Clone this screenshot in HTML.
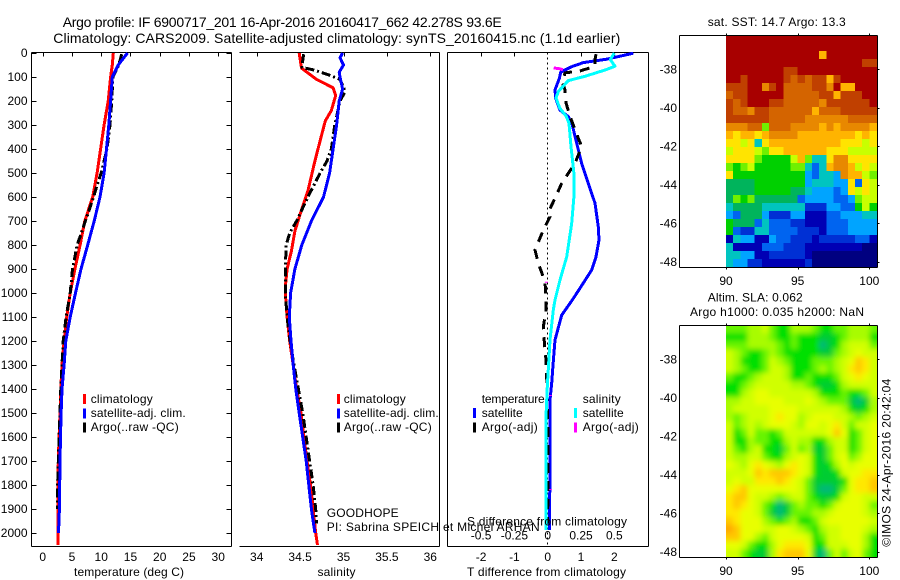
<!DOCTYPE html>
<html>
<head>
<meta charset="utf-8">
<title>Argo profile</title>
<style>
html,body{margin:0;padding:0;background:#fff;}
svg{display:block;}
text{font-family:"Liberation Sans",sans-serif;font-size:12px;fill:#000;}
.frame{stroke:#000;stroke-width:1;fill:none;shape-rendering:crispEdges;}
.curve{fill:none;stroke-width:3;stroke-linejoin:round;shape-rendering:crispEdges;}
</style>
</head>
<body>
<svg id="chart" width="900" height="580" viewBox="0 0 900 580" xmlns="http://www.w3.org/2000/svg">
  <rect width="900" height="580" fill="#fff"/>
  <text x="62.7" y="27" style="font-size:14px" textLength="439" lengthAdjust="spacing">Argo profile: IF 6900717_201 16-Apr-2016 20160417_662 42.278S 93.6E</text>
  <text x="53.3" y="43" style="font-size:14px" textLength="567" lengthAdjust="spacing">Climatology: CARS2009. Satellite-adjusted climatology: synTS_20160415.nc (1.1d earlier)</text>

  <g id="maps"></g>
  <g id="axes"></g>
  <g id="series"></g>

  <text x="74" y="576" textLength="110">temperature (deg C)</text>
  <text x="317.5" y="576" textLength="38">salinity</text>
  <text x="467" y="576" textLength="159">T difference from climatology</text>
  <text x="467" y="525.5" textLength="160">S difference from climatology</text>

  <g>
    <rect x="83" y="394" width="3" height="10" fill="#f00"/>
    <text x="90.7" y="403" textLength="62">climatology</text>
    <rect x="83" y="408.5" width="3" height="10" fill="#00f"/>
    <text x="90.7" y="417" textLength="95">satellite-adj. clim.</text>
    <rect x="83" y="422.5" width="3" height="10" fill="#000"/>
    <text x="90.7" y="431" textLength="88">Argo(..raw -QC)</text>
  </g>
  <g>
    <rect x="337" y="394" width="3" height="10" fill="#f00"/>
    <text x="343.7" y="403" textLength="62">climatology</text>
    <rect x="337" y="408.5" width="3" height="10" fill="#00f"/>
    <text x="343.7" y="417" textLength="95">satellite-adj. clim.</text>
    <rect x="337" y="422.5" width="3" height="10" fill="#000"/>
    <text x="343.7" y="431" textLength="88">Argo(..raw -QC)</text>
  </g>
  <g>
    <text x="481.7" y="403" textLength="63">temperature</text>
    <rect x="473" y="408" width="3" height="10" fill="#00f"/>
    <text x="481.7" y="417" textLength="41">satellite</text>
    <rect x="473" y="422.5" width="3" height="10" fill="#000"/>
    <text x="481.7" y="431" textLength="56">Argo(-adj)</text>
    <text x="582.7" y="403" textLength="38">salinity</text>
    <rect x="574" y="408" width="3" height="10" fill="#0ff"/>
    <text x="582.7" y="417" textLength="41">satellite</text>
    <rect x="574" y="422.5" width="3" height="10" fill="#f0f"/>
    <text x="582.7" y="431" textLength="56">Argo(-adj)</text>
  </g>

  <text x="326.7" y="517" textLength="72">GOODHOPE</text>
  <text x="326.7" y="531" textLength="213">PI: Sabrina SPEICH et Michel ARHAN</text>

  <text x="707.7" y="26" textLength="138">sat. SST: 14.7 Argo: 13.3</text>
  <text x="707.7" y="301.5" textLength="95">Altim. SLA: 0.062</text>
  <text x="690" y="316" textLength="174">Argo h1000: 0.035 h2000: NaN</text>
  <text transform="translate(890.5,546.7) rotate(-90)" textLength="168">©IMOS 24-Apr-2016 20:42:04</text>
</svg>
<script>
// ---- Profile tick labels ----
const depthTicks = [0,100,200,300,400,500,600,700,800,900,1000,1100,1200,1300,1400,1500,1600,1700,1800,1900,2000];
const tempTicks = [0,5,10,15,20,25,30];
const salTicks = [34,34.5,35,35.5,36];
const tDiffTicks = [-2,-1,0,1,2];
const sDiffTicks = [-0.5,-0.25,0,0.25,0.5];
const lonTicks = [90,95,100];
const latTicks = [-38,-40,-42,-44,-46,-48];

// ---- Temperature panel ----
const tempClimDepth = [0,50,100,200,300,400,500,600,700,800,900,1000,1100,1200,1300,1400,1500,1600,1700,1800,1900,2000,2050];
const tempClim = [12.07,11.9,11.6,11.2,10.5,9.9,9.3,8.55,7.2,6.4,5.5,4.7,4.1,3.65,3.3,3.1,2.95,2.8,2.67,2.62,2.6,2.6,2.6];
const tempSatDepth = [0,50,100,200,300,400,500,600,700,800,900,1000,1100,1200,1300,1400,1500,1600,1700,1800,1900,2000];
const tempSat = [14.5,12.9,11.9,11.6,11.3,10.9,10.5,9.8,8.8,7.7,6.55,5.6,4.7,3.95,3.65,3.3,3.15,3.05,2.95,2.9,2.85,2.7];
const tempArgoDepth = [5,50,100,200,300,400,500,550,600,700,800,900,1000,1100,1200,1300,1400,1500,1600,1700,1800,1900];
const tempArgo = [13.5,13,12,11.8,11.5,11,10,9.3,8.7,7.3,5.9,5.1,4.7,4,3.5,3.3,3.1,2.95,2.8,2.67,2.55,2.5];

// ---- Salinity panel ----
const salClimDepth = [0,50,64,110,145,177,240,283,366,450,575,672,742,825,900,975,1000,1100,1200,1300,1400,1500,1600,1700,1800,1900,2000,2050];
const salClim = [34.49,34.51,34.52,34.69,34.88,34.91,34.86,34.79,34.73,34.67,34.59,34.5,34.44,34.4,34.35,34.33,34.33,34.35,34.38,34.42,34.46,34.51,34.545,34.58,34.62,34.65,34.68,34.7];
const salSatDepth = [0,20,50,80,100,150,200,300,400,500,600,700,800,900,1000,1100,1200,1300,1400,1500,1600,1700,1800,1900,2000];
const salSat = [34.99,34.96,35,34.95,34.96,34.99,34.95,34.92,34.88,34.84,34.77,34.63,34.52,34.44,34.39,34.375,34.395,34.42,34.45,34.49,34.53,34.57,34.6,34.63,34.67];
const salArgoDepth = [5,60,70,90,110,160,200,300,400,450,500,600,700,750,800,900,1000,1100,1200,1300,1400,1500,1600,1700,1800,1900,1960];
const salArgo = [34.54,34.52,34.65,34.82,34.96,35.02,34.96,34.9,34.86,34.81,34.73,34.59,34.46,34.38,34.34,34.33,34.33,34.35,34.385,34.43,34.48,34.53,34.57,34.61,34.65,34.68,34.69];

// ---- Difference panel ----
const tDiffSatDepth = [1,26,40,57,80,105,154,189,238,265,300,376,460,543,626,724,779,849,904,980,1029,1092,1196,1279,1375,1446,1725,1987];
const tDiffSat = [2.57,1.77,1.07,0.72,0.39,0.35,0.22,0.24,0.37,0.62,0.74,0.87,1.02,1.22,1.42,1.52,1.54,1.45,1.32,0.97,0.74,0.42,0.22,0.17,0.12,0.07,0.07,0.05];
const sDiffSatDepth = [0,28,55,69,97,115,160,187,229,264,293,390,501,599,710,849,946,1029,1071,1196,1390,1515,1987];
const sDiffSat = [0.5,0.47,0.505,0.44,0.28,0.155,0.08,0.062,0.09,0.14,0.16,0.175,0.197,0.197,0.18,0.143,0.092,0.055,0.042,0.017,-0.003,-0.013,-0.013];
const tDiffArgoDepth = [5,28,55,74,83,125,153,208,264,355,390,459,543,605,654,682,737,821,877,953,1021,1071,1140,1210,1279,1349,1600,1960];
const tDiffArgo = [1.45,1.42,1.42,0.99,0.52,0.44,0.52,0.55,0.67,0.92,1.02,0.82,0.42,0.22,0.05,0.07,-0.13,-0.38,-0.28,-0.08,-0.05,-0.05,-0.13,-0.1,-0.05,-0.03,0.01,0];
const sDiffArgoDepth = [62,66,70];
const sDiffArgo = [0.045,0.09,0.115];
const sDiffArgoSpotDepth = [953,1425,1817];
const sDiffArgoSpot = [-0.01,0.02,0.02];

// ---- SST map, colour level per 0.5 deg column, row by row from north ----
const sstGrid = [
[15,15,15,15,15,15,15,15,15,15,15,15,15,15,15,15,15,15,15,15,15],
[15,15,15,15,15,15,15,15,15,15,15,15,15,15,15,15,15,15,15,15,15],
[15,15,15,15,15,15,15,15,15,15,15,15,15,11,15,15,15,15,15,15,15],
[15,15,15,15,15,15,15,15,15,15,15,15,15,15,15,15,15,15,15,14,14],
[15,15,15,15,15,15,15,15,14,14,15,15,15,15,15,15,15,15,15,15,15],
[15,15,14,15,15,15,15,15,14,13,14,13,14,14,11,14,15,15,15,15,15],
[14,14,14,15,15,12,14,15,13,13,13,13,14,14,12,15,11,11,15,15,15],
[13,14,14,15,15,15,15,15,13,13,13,13,13,14,14,11,14,14,14,15,15],
[14,13,14,15,15,15,14,14,13,13,13,13,13,12,14,14,14,14,14,14,15],
[14,13,13,12,14,14,13,13,13,13,13,13,11,13,13,13,14,14,14,14,14],
[14,14,14,14,14,14,13,13,13,13,13,12,12,12,12,12,12,13,13,13,13],
[12,12,12,13,13,8,13,13,13,12,12,12,12,11,12,11,12,12,12,12,11],
[11,10,11,11,10,11,12,12,12,12,11,11,11,11,11,11,11,11,10,11,10],
[10,10,9,10,5,10,11,11,11,11,11,11,11,11,11,11,10,10,10,9,10],
[9,10,10,10,9,8,10,10,11,11,11,11,11,11,10,10,10,9,9,9,9],
[10,10,10,10,8,7,7,7,7,9,11,8,5,5,10,12,12,10,10,10,10],
[8,7,8,9,7,7,7,7,7,8,8,5,3,5,11,12,12,11,9,10,9],
[10,7,7,7,7,7,7,7,7,7,7,4,3,5,5,4,12,11,11,9,8],
[6,6,6,6,7,7,7,7,7,7,7,4,5,5,5,4,4,10,3,10,9],
[6,6,6,6,7,7,7,7,7,6,6,5,4,4,4,3,4,10,9,10,9],
[6,8,7,8,6,6,6,6,6,6,3,4,4,4,4,3,3,4,8,9,9],
[5,6,6,6,6,5,5,5,5,5,5,2,2,2,4,4,3,3,7,9,7],
[4,3,6,6,6,4,2,2,2,4,4,1,1,1,3,3,4,4,4,5,5],
[7,6,6,6,3,5,3,3,3,2,2,1,1,1,3,3,3,4,4,4,4],
[7,3,2,2,5,5,3,3,3,3,2,2,2,1,3,3,3,4,4,4,4],
[1,5,4,4,1,1,4,3,3,2,2,2,1,2,2,2,2,2,3,3,1],
[5,1,1,1,1,3,3,3,2,2,2,1,1,1,1,1,1,1,1,0,0],
[5,5,4,4,1,1,2,2,2,2,2,1,0,0,0,0,0,0,0,0,0],
[5,4,4,2,2,1,1,1,1,1,1,2,0,0,0,0,0,0,0,0,0]
];

// ---- SLA map, colour level per 0.5 deg column, row by row from north ----
const slaGrid = [
[3,3,3,4,4,5,3,2,2,4,4,4,3,2,2,3,3,4,4,4,3],
[2,2,2,4,4,4,3,2,2,3,2,2,2,1,1,2,3,4,4,4,2],
[3,3,3,4,4,4,4,3,2,3,2,2,2,0,1,2,4,5,5,5,3],
[5,4,3,2,2,3,4,3,2,2,2,2,2,1,1,3,4,5,6,5,5],
[5,4,2,2,2,3,5,4,3,2,2,2,3,3,3,4,5,6,8,7,5],
[5,4,3,2,2,3,5,5,4,2,2,2,3,4,3,4,5,7,8,7,5],
[3,2,2,3,4,5,5,5,4,2,2,3,2,2,2,3,5,6,7,6,5],
[2,2,3,4,5,5,5,5,5,4,4,3,2,1,1,2,4,5,5,5,5],
[2,2,4,5,6,6,5,5,5,5,5,5,4,2,2,2,3,2,2,3,5],
[4,4,5,5,6,6,6,6,5,5,5,6,5,4,3,3,3,1,0,1,4],
[4,5,5,5,5,5,6,6,6,6,5,5,5,5,5,5,4,2,1,2,4],
[4,3,4,5,5,5,6,7,6,6,4,5,6,6,6,5,5,4,3,4,5],
[5,3,4,5,4,5,6,6,6,5,4,6,6,5,6,7,5,3,5,5,6],
[5,2,3,5,3,3,2,3,5,5,5,5,5,5,6,8,6,2,3,5,6],
[5,2,2,4,3,3,2,2,4,5,4,4,2,2,4,5,5,2,3,5,6],
[5,3,2,4,5,2,2,1,3,5,3,4,1,1,3,5,5,2,3,5,6],
[5,4,4,5,5,3,2,2,4,5,6,5,2,1,3,5,6,3,4,6,6],
[6,5,4,6,7,6,5,4,6,7,6,5,2,1,2,4,6,5,6,6,6],
[5,5,5,6,8,7,8,8,8,7,6,5,2,1,1,2,5,6,6,7,7],
[5,6,5,5,7,7,7,8,7,6,5,3,1,1,1,1,2,6,7,7,8],
[6,7,8,6,6,6,6,6,6,6,5,3,1,0,0,1,3,6,7,7,8],
[7,8,8,6,5,5,4,3,4,5,5,3,2,1,1,2,5,6,6,5,5],
[7,8,7,6,5,3,2,0,1,3,4,3,3,2,3,5,6,6,6,5,3],
[7,7,6,6,5,3,1,0,1,3,3,3,4,4,5,6,6,6,6,5,4],
[8,7,6,6,6,4,3,2,3,4,2,2,3,5,6,6,6,6,6,6,5],
[9,8,6,6,6,5,5,6,6,5,4,3,2,4,5,5,6,6,6,5,4],
[8,8,6,6,4,3,5,6,6,6,6,5,2,3,5,5,6,6,6,4,2],
[6,6,5,3,2,2,4,6,7,7,7,6,2,2,5,5,5,6,6,4,2],
[5,5,3,2,1,1,4,7,8,8,8,6,1,0,3,5,3,5,6,3,2]
];

const sstColors = ['#000080','#0000b4','#0030d4','#0064f0','#00a4ff','#00c4c0','#00b45c','#00d000','#70f000','#c8ff00','#ffe400','#ffb400','#e88800','#d46400','#c04000','#a80000'];
const slaColors = ['#00b878','#00cc30','#00e000','#68f400','#a8fc00','#d0ff00','#e8ff00','#ffe800','#ffc800','#ffa800'];

const NS = 'http://www.w3.org/2000/svg';
const axesLayer = document.getElementById('axes');
const seriesLayer = document.getElementById('series');
const mapLayer = document.getElementById('maps');

function make(tag, attrs, parent) {
  const el = document.createElementNS(NS, tag);
  for (const k in attrs) el.setAttribute(k, attrs[k]);
  parent.appendChild(el);
  return el;
}

// ---- Axis functions ----
const depthY = d => 53 + 0.24 * d;
const tempX = v => 42.7 + 5.85 * v;
const salX = v => 256.7 + 86.8 * (v - 34);
const tDiffX = v => 547.7 + 33.3 * v;
const sDiffX = v => 547.7 + 133.2 * v;
const lonX = v => 726 + 14.33 * (v - 90);
const sstLatY = v => 69.3 + 19.27 * (-38 - v);
const slaLatY = v => 359.3 + 19.24 * (-38 - v);

function drawFrameLine(x1, y1, x2, y2, name) {
  const el = make('line', {x1: x1, y1: y1, x2: x2, y2: y2, class: 'frame'}, axesLayer);
  
  
  return el;
}

function drawLabel(x, y, str, anchor, name) {
  const el = make('text', {x: x, y: y, 'text-anchor': anchor}, axesLayer);
  el.textContent = str;
  
  
  return el;
}

function drawCurve(depths, values, xFn, color, dash, name) {
  const pts = depths.map((d, i) => xFn(values[i]).toFixed(1) + ',' + depthY(d).toFixed(1));
  const el = make('polyline', {points: pts.join(' '), class: 'curve', stroke: color}, seriesLayer);
  if (dash) el.setAttribute('stroke-dasharray', dash);
  
  
  return el;
}

// ---- Frames ----
const P1 = {l: 31.5, r: 231.5}, P2 = {l: 239.5, r: 439.5}, P3 = {l: 447.5, r: 648.5};
const TOP = 52.5, BOT = 546.5;
drawFrameLine(P1.l, TOP, P1.r, TOP, 'temperature-axes-top');
drawFrameLine(P1.l, BOT, P1.r, BOT, 'temperature-axes-bottom');
drawFrameLine(P1.l, TOP, P1.l, BOT, 'temperature-axes-left');
drawFrameLine(P1.r, TOP, P1.r, BOT, 'temperature-axes-right');
drawFrameLine(P2.l, TOP, P2.r, TOP, 'salinity-axes-top');
drawFrameLine(P2.l, BOT, P2.r, BOT, 'salinity-axes-bottom');
drawFrameLine(P2.r, TOP, P2.r, BOT, 'salinity-axes-right');
drawFrameLine(P3.l, TOP, P3.r, TOP, 'difference-axes-top');
drawFrameLine(P3.l, BOT, P3.r, BOT, 'difference-axes-bottom');
drawFrameLine(P3.l, TOP, P3.l, BOT, 'difference-axes-left');
drawFrameLine(P3.r, TOP, P3.r, BOT, 'difference-axes-right');

// ---- Depth ticks ----
depthTicks.forEach(d => {
  const y = Math.round(depthY(d)) + 0.5;
  drawFrameLine(P1.l, y, P1.l + 5, y, 'depth-tick-left');
  drawFrameLine(P1.r - 5, y, P1.r, y, 'depth-tick-right');
  drawLabel(27.5, depthY(d) + 4.2, String(d), 'end', 'depth-tick-label');
});

// ---- Bottom ticks ----
tempTicks.forEach(v => {
  const x = Math.round(tempX(v)) + 0.5;
  drawFrameLine(x, TOP, x, TOP + 4, 'temperature-tick');
  drawLabel(tempX(v), 561, String(v), 'middle', 'temperature-tick-label');
});
salTicks.forEach(v => {
  const x = Math.round(salX(v)) + 0.5;
  drawFrameLine(x, TOP, x, TOP + 4, 'salinity-tick');
  drawLabel(salX(v), 561, String(v), 'middle', 'salinity-tick-label');
});
tDiffTicks.forEach(v => {
  const x = Math.round(tDiffX(v)) + 0.5;
  if (v !== 0) drawFrameLine(x, TOP, x, TOP + 4, 'difference-tick');
  drawLabel(tDiffX(v), 561, String(v), 'middle', 'difference-tick-label');
});
sDiffTicks.forEach(v => {
  drawLabel(sDiffX(v), 539.5, String(v), 'middle', 's-difference-tick-label');
});

// ---- Zero line ----
const zeroLine = make('line', {x1: tDiffX(0), y1: TOP, x2: tDiffX(0), y2: BOT, stroke: '#000', 'stroke-width': 1, 'stroke-dasharray': '2 3', 'shape-rendering': 'crispEdges'}, axesLayer);



// ---- Series ----
drawCurve(tempClimDepth, tempClim, tempX, '#f00', null, 'temperature-climatology-line');
drawCurve(tempArgoDepth, tempArgo, tempX, '#000', '9 3 2 3', 'temperature-argo-line');
drawCurve(tempSatDepth, tempSat, tempX, '#00f', null, 'temperature-satellite-line');
drawCurve(salClimDepth, salClim, salX, '#f00', null, 'salinity-climatology-line');
drawCurve(salArgoDepth, salArgo, salX, '#000', '9 3 2 3', 'salinity-argo-line');
drawCurve(salSatDepth, salSat, salX, '#00f', null, 'salinity-satellite-line');
drawCurve(tDiffSatDepth, tDiffSat, tDiffX, '#00f', null, 't-difference-satellite-line');
drawCurve(tDiffArgoDepth, tDiffArgo, tDiffX, '#000', '10 8', 't-difference-argo-line');
drawCurve(sDiffSatDepth, sDiffSat, sDiffX, '#0ff', null, 's-difference-satellite-line');
drawCurve(sDiffArgoDepth, sDiffArgo, sDiffX, '#f0f', null, 's-difference-argo-line');
sDiffArgoSpotDepth.forEach((d, i) => {
  const spot = make('rect', {x: sDiffX(sDiffArgoSpot[i]) - 1.5, y: depthY(d), width: 3, height: 1, fill: '#f0f'}, seriesLayer);
  
  
});

// ---- Maps ----
const CELL_LON = 0.5;
const MAP_LEFT = 726, MAP_RIGHT = 877;
function drawHeatmap(grid, colors, latY, topPx, botPx, smooth, parent, cellName) {
  const rows = grid.length, rowH = (botPx - topPx) / rows;
  grid.forEach((row, j) => {
    row.forEach((level, i) => {
      let x = lonX(90 + i * CELL_LON), w = lonX(90 + (i + 1) * CELL_LON) - x;
      let y = topPx + j * rowH, h = rowH;
      if (smooth) {
        if (i === 0) { x -= 12; w += 12; }
        if (i === row.length - 1) w += 12;
        if (j === 0) { y -= 12; h += 12; }
        if (j === rows - 1) h += 12;
      }
      const cell = make('rect', {x: x, y: y, width: w + 0.4, height: h + 0.4, fill: colors[Math.max(0, Math.min(colors.length - 1, Math.round(level)))]}, parent);
      
      
    });
  });
}

const defs = make('defs', {}, mapLayer);
const clipSst = make('clipPath', {id: 'clip-sst'}, defs);
make('rect', {x: MAP_LEFT, y: 35, width: MAP_RIGHT - MAP_LEFT, height: 232}, clipSst);
const clipSla = make('clipPath', {id: 'clip-sla'}, defs);
make('rect', {x: MAP_LEFT, y: 325, width: MAP_RIGHT - MAP_LEFT, height: 232}, clipSla);
const blur = make('filter', {id: 'sla-blur', x: '-10%', y: '-10%', width: '120%', height: '120%'}, defs);
make('feGaussianBlur', {stdDeviation: '2.6'}, blur);

const sstGroup = make('g', {'clip-path': 'url(#clip-sst)', 'shape-rendering': 'crispEdges'}, mapLayer);


drawHeatmap(sstGrid, sstColors, sstLatY, 35, 267, false, sstGroup, 'sst-cell');

const slaClip = make('g', {'clip-path': 'url(#clip-sla)'}, mapLayer);


const slaBlur = make('g', {filter: 'url(#sla-blur)', 'shape-rendering': 'crispEdges'}, slaClip);


drawHeatmap(slaGrid, slaColors, slaLatY, 325, 557, true, slaBlur, 'sla-cell');

function drawMapAxes(latY, top, bot, prefix, labelBase) {
  const L = 679.5, R = 877.5;
  drawFrameLine(L, top, R, top, prefix + '-frame-top');
  drawFrameLine(L, bot, R, bot, prefix + '-frame-bottom');
  drawFrameLine(L, top, L, bot, prefix + '-frame-left');
  drawFrameLine(R, top, R, bot, prefix + '-frame-right');
  lonTicks.forEach(v => {
    const x = Math.round(lonX(v)) + 0.5;
    drawFrameLine(x, top - 2, x, top, prefix + '-lon-tick');
    drawFrameLine(x, bot, x, bot + 2, prefix + '-lon-tick');
    drawLabel(lonX(v), labelBase, String(v), 'middle', prefix + '-lon-label');
  });
  latTicks.forEach(v => {
    const y = Math.round(latY(v)) + 0.5;
    drawFrameLine(R, y, R + 2, y, prefix + '-lat-tick');
    drawLabel(677, latY(v) + 4.2, String(v), 'end', prefix + '-lat-label');
  });
}
drawMapAxes(sstLatY, 35.5, 267.5, 'sst-map', 285);
drawMapAxes(slaLatY, 325.5, 557.5, 'sla-map', 575);
</script>
</body>
</html>
